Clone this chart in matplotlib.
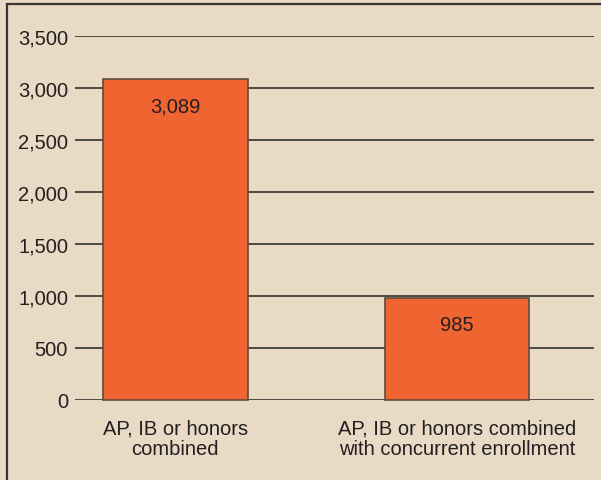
import matplotlib
matplotlib.use("Agg")
import matplotlib.pyplot as plt
from matplotlib.lines import Line2D

# Data
categories = ["AP, IB or honors\ncombined",
              "AP, IB or honors combined\nwith concurrent enrollment"]
values = [3089, 985]
value_labels = ["3,089", "985"]
yticks = [0, 500, 1000, 1500, 2000, 2500, 3000, 3500]
ytick_labels = ["0", "500", "1,000", "1,500", "2,000", "2,500", "3,000", "3,500"]

bg = "#e8dac4"
bar_color = "#f06431"
edge_color = "#5b4d3c"
grid_color = "#4f4a45"
text_color = "#231f20"

plt.rcParams["font.family"] = ["Liberation Sans Narrow", "Liberation Sans", "DejaVu Sans"]
fs = 14.5

W, H = 601, 481
fig = plt.figure(figsize=(W / 100, H / 100), dpi=100, facecolor=bg)
ax = fig.add_axes([75 / W, (H - 401) / H, 519 / W, 364 / H])
ax.set_facecolor(bg)

# gridlines
for t in yticks:
    ax.axhline(t, color=grid_color, lw=1.4, zorder=1)

x = range(len(values))
ax.bar(x, values, width=0.514, color=bar_color, edgecolor=edge_color,
       linewidth=1.2, zorder=2, clip_on=False)

for xi, v, lab in zip(x, values, value_labels):
    ax.annotate(lab, (xi, v), xytext=(0, -27), textcoords="offset pixels",
                ha="center", va="center", fontsize=fs, color=text_color, zorder=3)

ax.set_xlim(-0.355, 1.486)
ax.set_ylim(0, 3500)
ax.set_yticks(yticks)
ax.set_yticklabels(ytick_labels, fontsize=fs, color=text_color)
ax.set_xticks(list(x))
ax.set_xticklabels(categories, fontsize=fs, color=text_color, linespacing=1.15)
ax.tick_params(axis="both", length=0)
ax.tick_params(axis="y", pad=5)
ax.tick_params(axis="x", pad=13)
for s in ax.spines.values():
    s.set_visible(False)

# outer frame (left and top edges)
fig.add_artist(Line2D([7 / W, 7 / W], [0, 1 - 5 / H], transform=fig.transFigure,
                      color="#3a3634", lw=1.6))
fig.add_artist(Line2D([7 / W, 1], [1 - 5 / H, 1 - 5 / H], transform=fig.transFigure,
                      color="#3a3634", lw=1.6))

fig.savefig("out.png", dpi=100, facecolor=bg)
